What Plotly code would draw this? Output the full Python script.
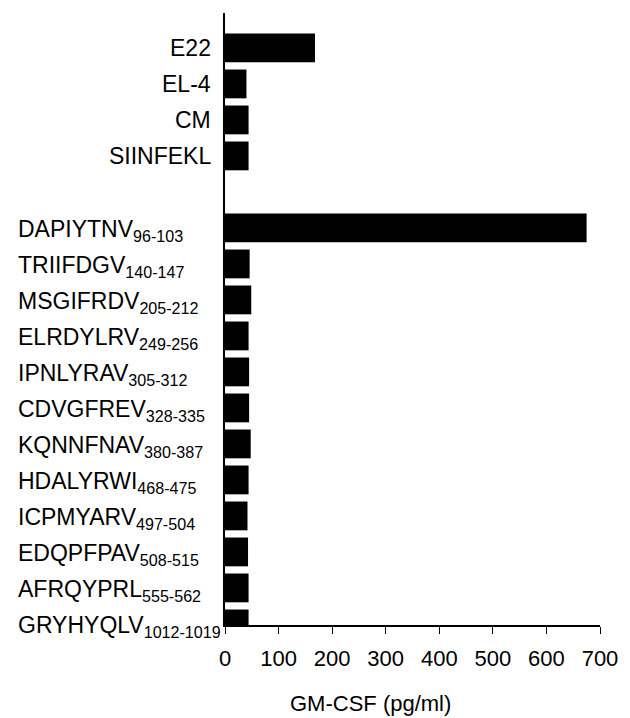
import plotly.graph_objects as go

# Data
control_labels = ["E22", "EL-4", "CM", "SIINFEKL"]
control_values = [168, 40, 44, 44]

peptide_names = ["DAPIYTNV", "TRIIFDGV", "MSGIFRDV", "ELRDYLRV", "IPNLYRAV", "CDVGFREV",
                 "KQNNFNAV", "HDALYRWI", "ICPMYARV", "EDQPFPAV", "AFRQYPRL", "GRYHYQLV"]
peptide_positions = ["96-103", "140-147", "205-212", "249-256", "305-312", "328-335",
                     "380-387", "468-475", "497-504", "508-515", "555-562", "1012-1019"]
peptide_values = [675, 46, 49, 44, 45, 45, 48, 44, 42, 43, 44, 44]

x_ticks = [0, 100, 200, 300, 400, 500, 600, 700]
x_title = "GM-CSF (pg/ml)"

FONT = "Liberation Sans, Arial, sans-serif"

# category slots: controls, one empty slot, peptides
ctrl_y = list(range(len(control_labels)))
pep_y = [len(control_labels) + 1 + i for i in range(len(peptide_names))]

fig = go.Figure()
fig.add_trace(go.Bar(
    x=control_values + peptide_values,
    y=ctrl_y + pep_y,
    orientation="h",
    width=0.8,
    marker=dict(color="black", line=dict(width=0)),
    showlegend=False,
))

annotations = []
for lab, yy in zip(control_labels, ctrl_y):
    annotations.append(dict(
        text=lab, x=-(225 - 213) / 382, xref="paper", y=yy, yref="y",
        xanchor="right", yanchor="middle", showarrow=False,
        font=dict(family=FONT, size=23, color="black"),
    ))
for name, pos, yy in zip(peptide_names, peptide_positions, pep_y):
    annotations.append(dict(
        text=f"{name}<sub>{pos}</sub>", x=-(225 - 12) / 382, xref="paper", y=yy, yref="y",
        xanchor="left", yanchor="middle", showarrow=False, yshift=-3,
        font=dict(family=FONT, size=23, color="black"),
    ))
annotations.append(dict(
    text=x_title, x=(373 - 225) / 382, xref="paper", y=-(703 - 625) / 612, yref="paper",
    xanchor="center", yanchor="middle", showarrow=False,
    font=dict(family=FONT, size=22, color="black"),
))

fig.update_layout(
    width=630, height=718,
    margin=dict(l=225, r=23, t=13, b=93),
    paper_bgcolor="white", plot_bgcolor="white",
    annotations=annotations,
    font=dict(family=FONT, color="black"),
)
fig.update_xaxes(
    range=[0, 700], tickvals=x_ticks, ticks="outside", ticklen=7, tickwidth=1.3,
    tickcolor="black", showline=True, linecolor="black", linewidth=1.5,
    showgrid=False, zeroline=False, tickfont=dict(family=FONT, size=22, color="black"),
    ticklabelstandoff=6,
)
fig.update_yaxes(
    range=[len(control_labels) + len(peptide_names) + 0.03, -0.97],
    showticklabels=False, ticks="", showline=True, linecolor="black", linewidth=1.5,
    showgrid=False, zeroline=False,
)

fig.write_html("out.html", config={"displayModeBar": False},
               post_script="document.body.style.margin='0px';")
